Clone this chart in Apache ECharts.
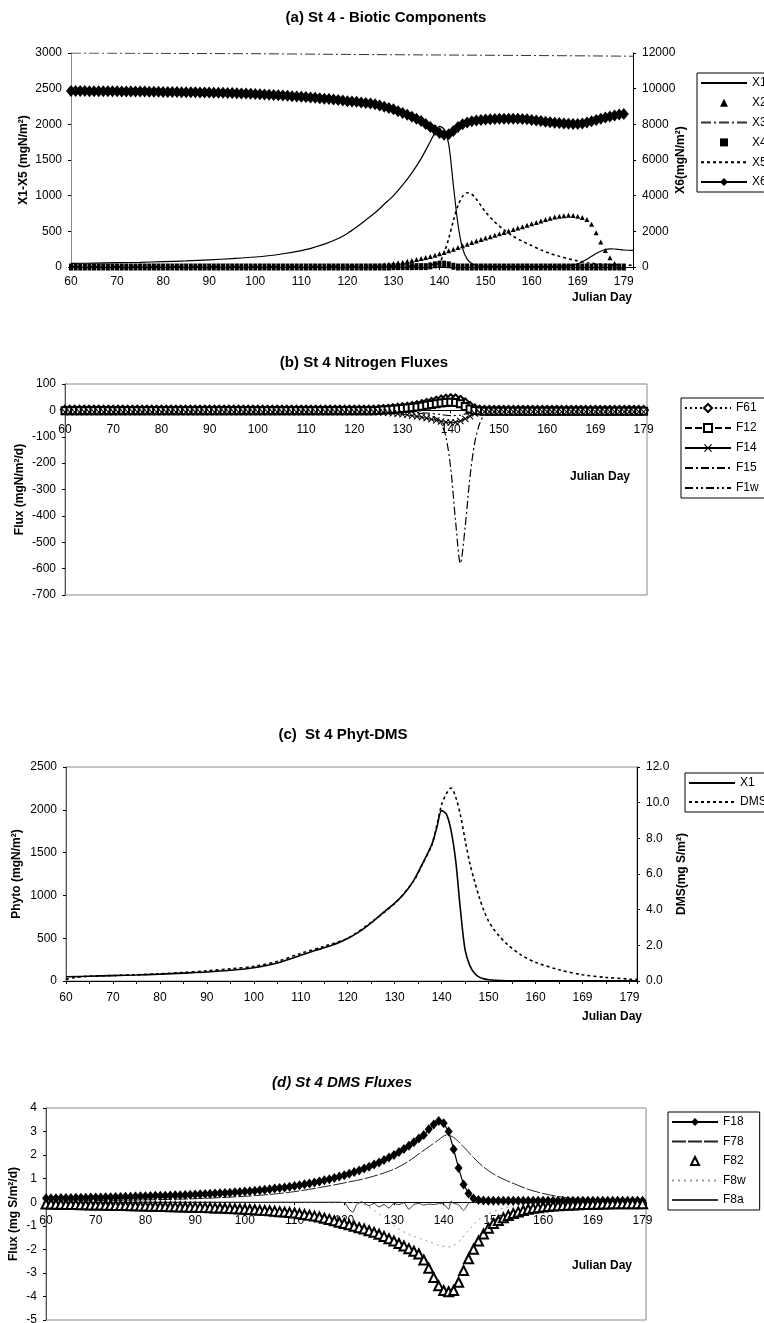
<!DOCTYPE html>
<html>
<head>
<meta charset="utf-8">
<script src="https://cdn.jsdelivr.net/npm/echarts@6/dist/echarts.min.js"></script>
<style>
html, body { margin: 0; padding: 0; background: #fff; }
#page { position: relative; width: 764px; height: 1323px; }
.panel { position: absolute; left: 0; width: 764px; }
</style>
</head>
<body>
<div id="page">
  <div id="pa" class="panel" style="top:0;height:320px"></div>
  <div id="pb" class="panel" style="top:340px;height:280px"></div>
  <div id="pc" class="panel" style="top:700px;height:340px"></div>
  <div id="pd" class="panel" style="top:1050px;height:273px"></div>
</div>
<script>
// x positions run 60..180, tick every 10 positions (the last two days are 169 and 179)
const xTickLabels = ['60', '70', '80', '90', '100', '110', '120', '130', '140', '150', '160', '169', '179'];

// ---- (a) biotic components ----
const aX1 = [[60,50],[65,55],[70,60],[75,66],[80,75],[85,85],[90,100],[95,118],[100,140],[105,175],[110,230],[113,280],[115,320],[118,400],[120,470],[122,560],[124,660],[126,760],[128,880],[130,1000],[132,1150],[134,1320],[136,1520],[138,1760],[139,1880],[140,1970],[141,1930],[142,1720],[143,1150],[144,600],[145,260],[146,110],[147,50],[148,25],[150,10],[155,5],[160,5],[165,10],[168,20],[169,30],[170,45],[171,75],[172,110],[173,150],[174,190],[175,220],[176,245],[177,255],[178,252],[179,245],[180,238],[182,232]];
const aX2 = [15,22,30,38,48,58,68,80,92,105,118,132,148,165,185,205,228,250,275,298,320,342,365,385,405,425,445,465,485,505,525,545,565,585,605,625,645,665,685,700,712,720,725,722,712,695,665,600,480,350,230,130,50,10,0]; // days 126..180
const aX3 = [[60,3000],[80,2995],[100,2990],[120,2980],[140,2972],[160,2965],[182,2955]];
const aX4 = [0,0,0,0,0,0,0,0,0,0, 0,0,0,0,0,0,0,0,0,0, 0,0,0,0,0,0,0,0,0,0, 0,0,0,0,0,0,0,0,0,0, 0,0,0,0,0,0,0,0,0,0, 0,0,0,0,0,0,0,0,0,0, 0,0,0,0,0,0,0,0,0,0, 5,5,5,5,5,5,5,5,15,30, 40,40,30,10,0,0,0,0,0,0, 0,0,0,0,0,0,0,0,0,0, 0,0,0,0,0,0,0,0,0,0, 0,0,0,0,0,0,0,0,0,0, 0]; // days 60..180
const aX5 = [[60,2],[120,5],[130,10],[136,20],[139,40],[140,60],[141,200],[142,400],[143,650],[144,860],[145,990],[146,1040],[147,1020],[148,950],[149,860],[150,770],[152,630],[154,520],[156,430],[158,360],[160,300],[162,240],[164,190],[166,150],[168,115],[170,85],[172,60],[175,40],[178,30],[182,25]];
const aX6 = [9870,9870,9865,9865,9860,9860,9860,9855,9855,9850,
  9850,9845,9845,9840,9840,9835,9835,9830,9825,9825,
  9820,9815,9815,9810,9805,9800,9800,9795,9790,9785,
  9780,9775,9770,9765,9760,9755,9745,9735,9725,9715,
  9700,9690,9675,9660,9645,9630,9615,9600,9580,9565,
  9550,9530,9510,9485,9465,9440,9415,9390,9360,9330,
  9300,9280,9260,9230,9200,9170,9120,9060,8990,8920,
  8840,8740,8640,8540,8430,8310,8180,8020,7850,7680,
  7520,7420,7450,7620,7850,8000,8100,8170,8220,8250,
  8270,8290,8300,8310,8320,8320,8320,8310,8300,8290,
  8240,8210,8180,8150,8120,8090,8070,8050,8030,8020,
  8020,8050,8100,8170,8250,8320,8380,8440,8500,8550,8580]; // days 60..180

// ---- (b) nitrogen fluxes ----
const bF61 = [3,3,3,3,3,3,3,3,3,3, 3,3,3,3,3,3,3,3,3,3, 3,3,3,3,3,3,3,3,3,3, 3,3,3,3,3,3,3,3,3,3, 3,3,3,3,3,3,3,3,3,3, 3,3,3,3,3,3,3,3,3,3, 3,3,3,3,3,4,5,6,8,10,
  12,14,17,20,24,28,32,37,41,44, 46,45,40,30,17,7,3,2,2,2, 2,2,2,2,2,2,2,2,2,2, 2,2,2,2,2,2,2,2,2,2, 2,2,2,2,2,2,2,2,2,2, 2]; // days 60..180
const bF12 = [-1,-1,-1,-1,-1,-1,-1,-1,-1,-1, -1,-1,-1,-1,-1,-1,-1,-1,-1,-1, -1,-1,-1,-1,-1,-1,-1,-1,-1,-1, -1,-1,-1,-1,-1,-1,-1,-1,-1,-1, -1,-1,-1,-1,-1,-1,-1,-1,-1,-1, -1,-1,-1,-1,-1,-1,-1,-1,-1,-1, -1,-1,-1,-1,-1,0,1,2,4,5,
  7,9,11,13,16,19,22,25,28,30, 31,30,25,15,5,0,-2,-3,-3,-3, -3,-3,-3,-3,-3,-3,-3,-3,-3,-3, -3,-3,-3,-3,-3,-3,-3,-3,-3,-3, -3,-3,-3,-3,-3,-3,-3,-3,-3,-3, -3];
const bF14 = [-6,-6,-6,-6,-6,-6,-6,-6,-6,-6, -6,-6,-6,-6,-6,-6,-6,-6,-6,-6, -6,-6,-6,-6,-6,-6,-6,-6,-6,-6, -6,-6,-6,-6,-6,-6,-6,-6,-6,-6, -6,-6,-6,-6,-6,-6,-6,-6,-6,-6, -6,-6,-6,-6,-6,-6,-6,-6,-6,-6, -6,-6,-6,-6,-6,-7,-8,-9,-11,-13,
  -15,-17,-20,-23,-26,-30,-34,-38,-42,-45, -46,-45,-40,-32,-22,-12,-7,-5,-5,-5, -5,-5,-5,-5,-5,-5,-5,-5,-5,-5, -5,-5,-5,-5,-5,-5,-5,-5,-5,-5, -5,-5,-5,-5,-5,-5,-5,-5,-5,-5, -5];
const bF15 = [[60,0],[120,-2],[130,-6],[135,-15],[137,-30],[138,-50],[139,-100],[140,-220],[141,-420],[142,-580],[143,-440],[144,-250],[145,-120],[146,-50],[147,-15],[148,-3],[150,0],[181,0]];
const bF1w = [[60,-2],[120,-3],[130,-6],[135,-10],[138,-16],[140,-20],[142,-18],[144,-10],[146,-4],[150,-2],[181,-2]];

// ---- (c) phyto and DMS ----
const cX1 = [[60,50],[65,56],[70,63],[75,70],[80,80],[85,92],[90,105],[95,125],[100,155],[105,210],[110,300],[113,355],[116,405],[119,470],[122,560],[125,680],[128,820],[130,910],[132,1020],[134,1170],[136,1380],[138,1610],[139,1800],[140,1990],[141,1950],[142,1760],[143,1400],[144,830],[145,360],[146,180],[147,90],[148,45],[149,25],[150,15],[155,3],[160,2],[170,2],[181.6,2]];
const cDMS = [[60,0.1],[62,0.2],[65,0.27],[70,0.31],[75,0.35],[80,0.4],[85,0.48],[90,0.57],[95,0.68],[100,0.82],[105,1.1],[110,1.55],[115,1.95],[120,2.4],[125,3.3],[130,4.35],[134,5.6],[136,6.6],[138,7.7],[140,9.9],[141,10.5],[142,10.82],[143,10.3],[144,9.3],[145,7.9],[146,6.6],[147,5.6],[148,4.7],[149,3.95],[150,3.35],[151,2.94],[152,2.6],[154,2.05],[157,1.45],[160,1.05],[165,0.63],[170,0.35],[175,0.2],[180,0.11],[181.6,0.09]];

// ---- (d) DMS fluxes ----
const dF18 = [0.17,0.17,0.17,0.18,0.18,0.18,0.19,0.19,0.19,0.2,
  0.2,0.2,0.21,0.21,0.22,0.22,0.23,0.23,0.24,0.25,
  0.25,0.26,0.27,0.27,0.28,0.29,0.3,0.3,0.31,0.32,
  0.33,0.34,0.35,0.36,0.37,0.38,0.39,0.4,0.42,0.43,
  0.45,0.47,0.49,0.51,0.53,0.55,0.58,0.6,0.63,0.66,
  0.69,0.72,0.76,0.8,0.84,0.88,0.93,0.98,1.03,1.09,
  1.15,1.21,1.28,1.35,1.43,1.51,1.6,1.69,1.79,1.9,
  2.01,2.13,2.26,2.4,2.55,2.7,2.85,3.1,3.3,3.45,
  3.35,3.0,2.25,1.45,0.75,0.37,0.16,0.09,0.07,0.06,
  0.06,0.06,0.06,0.06,0.06,0.06,0.06,0.06,0.06,0.06,
  0.06,0.06,0.06,0.06,0.06,0.06,0.06,0.06,0.06,0.06,
  0.06,0.06,0.06,0.06,0.06,0.06,0.06,0.06,0.06,0.06,0.06]; // days 60..180
const dF78 = [[60,0.05],[70,0.07],[80,0.1],[90,0.15],[100,0.25],[105,0.33],[110,0.45],[115,0.62],[120,0.82],[125,1.05],[130,1.4],[133,1.75],[135,2.05],[137,2.35],[139,2.65],[140.5,2.85],[142,2.75],[144,2.35],[146,1.9],[148,1.5],[150,1.2],[152,0.98],[154,0.8],[157,0.55],[160,0.37],[164,0.21],[168,0.12],[172,0.07],[176,0.05],[180.7,0.04]];
const dF82 = [-0.08,-0.08,-0.09,-0.09,-0.1,-0.1,-0.1,-0.11,-0.11,-0.12,
  -0.12,-0.12,-0.13,-0.13,-0.14,-0.14,-0.14,-0.15,-0.15,-0.16,
  -0.16,-0.17,-0.17,-0.18,-0.18,-0.19,-0.19,-0.2,-0.2,-0.21,
  -0.21,-0.22,-0.22,-0.23,-0.24,-0.25,-0.26,-0.27,-0.28,-0.29,
  -0.3,-0.31,-0.32,-0.34,-0.35,-0.36,-0.38,-0.4,-0.42,-0.44,
  -0.46,-0.49,-0.52,-0.55,-0.59,-0.63,-0.68,-0.73,-0.79,-0.85,
  -0.9,-0.96,-1.02,-1.08,-1.14,-1.21,-1.28,-1.36,-1.45,-1.55,
  -1.65,-1.75,-1.86,-1.97,-2.08,-2.2,-2.45,-2.8,-3.2,-3.55,
  -3.75,-3.8,-3.75,-3.4,-2.9,-2.4,-2.0,-1.65,-1.35,-1.1,
  -0.9,-0.78,-0.66,-0.56,-0.48,-0.41,-0.35,-0.3,-0.26,-0.23,
  -0.2,-0.18,-0.16,-0.15,-0.14,-0.13,-0.12,-0.11,-0.1,-0.1,
  -0.09,-0.09,-0.08,-0.08,-0.07,-0.07,-0.07,-0.06,-0.06,-0.06,-0.06]; // days 60..180
const dF8w = [[60,0],[122,0],[124,-0.1],[126,-0.35],[128,-0.65],[131,-1.15],[134,-1.45],[137,-1.67],[139,-1.82],[141,-1.9],[142,-1.85],[143.6,-1.55],[145,-1.2],[147,-0.75],[149,-0.5],[151,-0.32],[153,-0.2],[155,-0.1],[158,-0.03],[160,0],[180.7,0]];
const dF8a = [[60,0],[118,0],[120,-0.02],[121,-0.3],[121.7,-0.42],[122.5,-0.1],[123.5,0.02],[125,-0.15],[126,-0.05],[127,-0.2],[128,-0.1],[129,-0.25],[130,-0.05],[131,-0.1],[132,-0.02],[133,-0.3],[134,-0.1],[135,-0.05],[136,-0.12],[137,-0.08],[138,-0.1],[139,-0.06],[140,-0.08],[141,-0.3],[141.5,0.05],[142,-0.05],[143,-0.1],[144,-0.35],[145,-0.05],[146,0],[180.7,0]];

const FONT = '"Liberation Sans Narrow", "Liberation Sans", Arial, sans-serif';
const CROSS = 'path://M0,1L1,0L5,4L9,0L10,1L6,5L10,9L9,10L5,6L1,10L0,9L4,5Z';

function byDay(start, vals) {
  return vals.map(function (v, i) { return [start + i, v]; });
}

// shift the day axis up from the grid bottom to where y = 0 falls
function zeroOffset(gridH, yMin, yMax) {
  return -gridH * (0 - yMin) / (yMax - yMin);
}

function dayAxis(max, margin, offset, minor) {
  return {
    type: 'value', min: 60, max: max, interval: 10,
    position: 'bottom', offset: offset || 0,
    axisLine: { onZero: false, lineStyle: { color: '#000', width: 1 } },
    axisTick: { show: true, length: 3, lineStyle: { color: '#000' } },
    minorTick: { show: !!minor, splitNumber: 2, length: 3, lineStyle: { color: '#000' } },
    splitLine: { show: false },
    axisLabel: {
      margin: margin, color: '#000', fontSize: 12, fontFamily: FONT,
      formatter: function (v) {
        const i = (v - 60) / 10;
        return Number.isInteger(i) && xTickLabels[i] ? xTickLabels[i] : '';
      }
    }
  };
}

function valAxis(o) {
  return {
    type: 'value', min: o.min, max: o.max, interval: o.interval,
    position: o.position || 'left',
    axisLine: { show: true, onZero: false, lineStyle: { color: o.lineColor || '#000', width: 1 } },
    axisTick: { show: true, length: 3, lineStyle: { color: '#000' } },
    splitLine: { show: false },
    axisLabel: {
      margin: 9, color: '#000', fontSize: 12, fontFamily: FONT,
      formatter: o.formatter || function (v) { return String(v); }
    },
    name: o.name, nameLocation: 'middle', nameGap: o.nameGap, nameRotate: 90,
    nameMoveOverlap: false,
    nameTextStyle: { fontSize: 12, fontWeight: 'bold', color: '#000', fontFamily: FONT }
  };
}

// line-only entries hide the symbol the legend would otherwise draw
function legendBox(left, top, names, lineOnly, gap) {
  return {
    orient: 'vertical', left: left, top: top,
    itemWidth: 46, itemHeight: 10, itemGap: gap,
    padding: [4, 14, 4, 3],
    borderColor: '#000', borderWidth: 1, backgroundColor: '#fff',
    selectedMode: false,
    textStyle: { fontSize: 12, color: '#000', fontFamily: FONT },
    data: names.map(function (n) {
      return lineOnly.indexOf(n) >= 0 ? { name: n, itemStyle: { opacity: 0 } } : { name: n };
    })
  };
}

function label(text, x, y, size, italic) {
  return {
    type: 'text', x: x, y: y,
    style: {
      text: text, fill: '#000', align: 'center', verticalAlign: 'middle',
      fontFamily: FONT, fontSize: size, fontWeight: 'bold', fontStyle: italic ? 'italic' : 'normal'
    }
  };
}

const NOLINE = { width: 0, opacity: 0 };

// (a)
echarts.init(document.getElementById('pa')).setOption({
  animation: false,
  textStyle: { fontFamily: FONT },
  grid: { left: 71, right: 131, top: 53, bottom: 53, outerBoundsMode: 'none' },
  xAxis: dayAxis(182, 9),
  yAxis: [
    valAxis({ min: 0, max: 3000, interval: 500, name: 'X1-X5 (mgN/m²)', nameGap: 41, lineColor: '#888' }),
    valAxis({ min: 0, max: 12000, interval: 2000, position: 'right', name: 'X6(mgN/m²)', nameGap: 42 })
  ],
  legend: legendBox(697, 73, ['X1', 'X2', 'X3', 'X4', 'X5', 'X6'], ['X1', 'X3', 'X5'], 7.8),
  graphic: [label('(a) St 4 - Biotic Components', 386, 18, 15), label('Julian Day', 602, 298, 12)],
  series: [
    { name: 'X1', type: 'line', data: aX1, smooth: 0.3, symbol: 'none', lineStyle: { color: '#000', width: 1.2 }, itemStyle: { color: '#000' } },
    { name: 'X2', type: 'line', data: byDay(126, aX2), symbol: 'triangle', symbolSize: 5, showAllSymbol: true, lineStyle: NOLINE, itemStyle: { color: '#000' } },
    { name: 'X3', type: 'line', data: aX3, symbol: 'none', lineStyle: { color: '#333', width: 1, type: [10, 3, 2, 3] }, itemStyle: { color: '#333' } },
    { name: 'X4', type: 'line', data: byDay(60, aX4), symbol: 'rect', symbolSize: [4, 7], showAllSymbol: true, lineStyle: NOLINE, itemStyle: { color: '#000' } },
    { name: 'X5', type: 'line', data: aX5, smooth: 0.3, symbol: 'none', lineStyle: { color: '#000', width: 1.6, type: [3, 3] }, itemStyle: { color: '#000' } },
    { name: 'X6', type: 'line', yAxisIndex: 1, data: byDay(60, aX6), symbol: 'diamond', symbolSize: [10, 12], showAllSymbol: true, lineStyle: { color: '#000', width: 1.5 }, itemStyle: { color: '#000' } }
  ]
});

// (b)
const bGridH = 280 - 44 - 25;
echarts.init(document.getElementById('pb')).setOption({
  animation: false,
  textStyle: { fontFamily: FONT },
  grid: { left: 65, right: 117, top: 44, bottom: 25, show: true, borderColor: '#888', borderWidth: 1, outerBoundsMode: 'none' },
  xAxis: dayAxis(180.7, 13, zeroOffset(bGridH, -700, 100)),
  yAxis: valAxis({ min: -700, max: 100, interval: 100, name: 'Flux (mgN/m²/d)', nameGap: 39, lineColor: '#555' }),
  legend: legendBox(681, 58, ['F61', 'F12', 'F14', 'F15', 'F1w'], ['F15', 'F1w'], 8),
  graphic: [label('(b) St 4 Nitrogen Fluxes', 364, 23, 15), label('Julian Day', 600, 137, 12)],
  series: [
    { name: 'F61', type: 'line', data: byDay(60, bF61), symbol: 'emptyDiamond', symbolSize: 8, showAllSymbol: true, lineStyle: { color: '#000', width: 1, type: [2, 3] }, itemStyle: { color: '#000', borderWidth: 1 } },
    { name: 'F12', type: 'line', data: byDay(60, bF12), symbol: 'emptyRect', symbolSize: 7, showAllSymbol: true, lineStyle: { color: '#000', width: 1, type: [7, 3] }, itemStyle: { color: '#000', borderWidth: 1 } },
    { name: 'F14', type: 'line', data: byDay(60, bF14), symbol: CROSS, symbolSize: 7, showAllSymbol: true, lineStyle: { color: '#000', width: 1 }, itemStyle: { color: '#000' } },
    { name: 'F15', type: 'line', data: bF15, smooth: 0.3, symbol: 'none', lineStyle: { color: '#000', width: 1.2, type: [8, 3, 2, 3] }, itemStyle: { color: '#000' } },
    { name: 'F1w', type: 'line', data: bF1w, smooth: 0.3, symbol: 'none', lineStyle: { color: '#000', width: 1.2, type: [8, 3, 2, 3, 2, 3] }, itemStyle: { color: '#000' } }
  ]
});

// (c)
echarts.init(document.getElementById('pc')).setOption({
  animation: false,
  textStyle: { fontFamily: FONT },
  grid: { left: 66, right: 127, top: 67, bottom: 59, show: true, borderColor: '#888', borderWidth: 1, outerBoundsMode: 'none' },
  xAxis: dayAxis(181.6, 11, 0, true),
  yAxis: [
    valAxis({ min: 0, max: 2500, interval: 500, name: 'Phyto (mgN/m²)', nameGap: 43, lineColor: '#555' }),
    valAxis({ min: 0, max: 12, interval: 2, position: 'right', name: 'DMS(mg S/m²)', nameGap: 39,
      formatter: function (v) { return v.toFixed(1); } })
  ],
  legend: legendBox(685, 73, ['X1', 'DMS'], ['X1', 'DMS'], 7),
  graphic: [label('(c)  St 4 Phyt-DMS', 343, 35, 15), label('Julian Day', 612, 317, 12)],
  series: [
    { name: 'X1', type: 'line', data: cX1, smooth: 0.3, symbol: 'none', lineStyle: { color: '#000', width: 1.6 }, itemStyle: { color: '#000' } },
    { name: 'DMS', type: 'line', yAxisIndex: 1, data: cDMS, smooth: 0.3, symbol: 'none', lineStyle: { color: '#000', width: 1.6, type: [3, 3] }, itemStyle: { color: '#000' } }
  ]
});

// (d)
const dGridH = 273 - 58 - 3;
echarts.init(document.getElementById('pd')).setOption({
  animation: false,
  textStyle: { fontFamily: FONT },
  grid: { left: 46, right: 118, top: 58, bottom: 3, show: true, borderColor: '#888', borderWidth: 1, outerBoundsMode: 'none' },
  xAxis: dayAxis(180.7, 12, zeroOffset(dGridH, -5, 4)),
  yAxis: valAxis({ min: -5, max: 4, interval: 1, name: 'Flux (mg S/m²/d)', nameGap: 26, lineColor: '#555' }),
  legend: legendBox(668, 62, ['F18', 'F78', 'F82', 'F8w', 'F8a'], ['F78', 'F8w', 'F8a'], 7.5),
  graphic: [label('(d) St 4 DMS Fluxes', 342, 33, 15, true), label('Julian Day', 602, 216, 12)],
  series: [
    { name: 'F18', type: 'line', data: byDay(60, dF18), symbol: 'diamond', symbolSize: [8, 10], showAllSymbol: true, lineStyle: { color: '#000', width: 1.2 }, itemStyle: { color: '#000' } },
    { name: 'F78', type: 'line', data: dF78, smooth: 0.3, symbol: 'none', lineStyle: { color: '#222', width: 1, type: [14, 2] }, itemStyle: { color: '#222' } },
    { name: 'F82', type: 'line', data: byDay(60, dF82), symbol: 'emptyTriangle', symbolSize: 9, showAllSymbol: true, lineStyle: NOLINE, itemStyle: { color: '#000', borderWidth: 1 } },
    { name: 'F8w', type: 'line', data: dF8w, smooth: 0.3, symbol: 'none', lineStyle: { color: '#999', width: 1, type: [2, 4] }, itemStyle: { color: '#999' } },
    { name: 'F8a', type: 'line', data: dF8a, smooth: 0.2, symbol: 'none', lineStyle: { color: '#333', width: 1 }, itemStyle: { color: '#333' } }
  ]
});
</script>
</body>
</html>
